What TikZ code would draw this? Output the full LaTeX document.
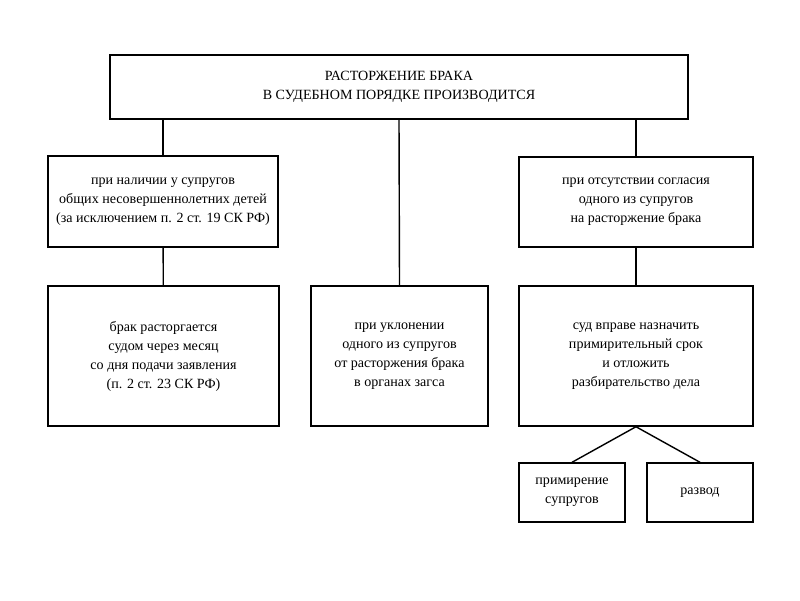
\documentclass[tikz,border=0pt]{standalone}
\usepackage{fontspec}
\setmainfont{Liberation Serif}

\begin{document}
\begin{tikzpicture}[x = 0.025cm, y = -0.025cm, line width = 1pt,
                        box/.style = {draw, align = center, inner sep = 0pt,
                                      font = \fontsize{10}{13.5}\selectfont},
                        wide/.style = {box, minimum width = 5.8cm},
                        small/.style = {box, minimum width = 2.65cm, minimum height = 1.475cm}]
      \useasboundingbox (0, 0) rectangle (800, 600);

      \node [box, minimum width = 14.45cm, minimum height = 1.6cm] (a1) at (399, 87)
            {РАСТОРЖЕНИЕ БРАКА\\В СУДЕБНОМ ПОРЯДКЕ ПРОИЗВОДИТСЯ};
      \node [wide, minimum width = 5.75cm, minimum height = 2.275cm] (a2) at (163, 201.5)
            {при наличии у супругов\\общих несовершеннолетних детей\\(за исключением п. 2 ст. 19 СК РФ)};
      \node [wide, minimum width = 5.85cm, minimum height = 2.25cm] (a3) at (636, 202)
            {при отсутствии согласия\\одного из супругов\\на расторжение брака};
      \node [wide, minimum width = 5.775cm, minimum height = 3.5cm] (a4) at (163.5, 356)
            {брак расторгается\\судом через месяц\\со дня подачи заявления\\(п. 2 ст. 23 СК РФ)};
      \node [box, minimum width = 4.425cm, minimum height = 3.5cm] (a5) at (399.5, 356)
            {при уклонении\\одного из супругов\\от расторжения брака\\в органах загса};
      \node [wide, minimum width = 5.85cm, minimum height = 3.5cm] (a6) at (636, 356)
            {суд вправе назначить\\примирительный срок\\и отложить\\разбирательство дела};
      \node [small] (a7) at (572, 492.5) {примирение\\супругов};
      \node [small] (a8) at (700, 492.5) {развод};

      \draw (a2.north) -- (a2.north |- a1.south);
      \draw (a1.south) -- (a5.north);
      \draw (a3.north) -- (a3.north |- a1.south);
      \draw (a2) -- (a4);
      \draw (a3) -- (a6);
      \draw (a6.south) -- (a7.north);
      \draw (a6.south) -- (a8.north);

      \end{tikzpicture}
\end{document}
